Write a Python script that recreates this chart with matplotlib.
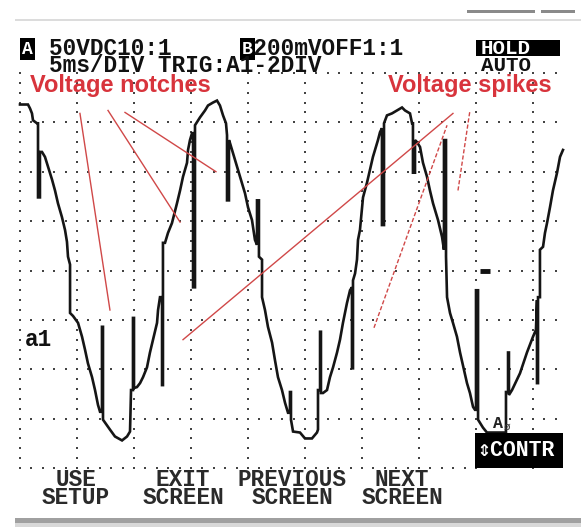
import matplotlib
matplotlib.use("Agg")
import matplotlib.pyplot as plt
import matplotlib.patches as patches
import numpy as np

# ---------------- data (time in ms, voltage in V; 5 ms/div, 50 V/div) ----------------
wave_t = [
    0.00, 0.70, 0.88, 1.05, 1.14, 1.49, 1.58, 1.58, 1.75, 1.75, 1.93,
    2.19, 2.46, 2.81, 3.07, 3.33, 3.68, 3.95, 4.12, 4.21, 4.39, 4.39, 4.65,
    5.09, 5.44, 5.70, 5.96, 6.32, 6.58, 6.84, 7.02, 7.19, 7.19, 7.28, 7.28,
    7.46, 7.89, 8.33, 8.95, 9.39, 9.65, 9.74, 9.91, 9.91, 10.00, 10.00,
    10.26, 10.53, 10.79, 11.14, 11.40, 11.67, 12.02, 12.11, 12.28, 12.46, 12.46, 12.54, 12.54,
    12.72, 12.98, 13.33, 13.77, 14.04, 14.30, 14.65, 14.74, 14.91, 15.09, 15.18, 15.18, 15.35, 15.35,
    15.79, 16.23, 16.49, 16.93, 17.28, 17.54, 17.81, 18.07, 18.16, 18.16, 18.33, 18.33,
    18.42, 18.86, 19.30, 19.74, 20.00, 20.35, 20.61, 20.79, 20.79, 20.96, 20.96, 21.23, 21.23,
    21.49, 21.75, 22.11, 22.37, 22.63, 22.98, 23.25, 23.51, 23.68, 23.68, 23.77, 23.77,
    23.95, 24.56, 25.00, 25.61, 26.05, 26.14, 26.14, 26.32, 26.32, 26.40, 26.40, 26.58,
    26.93, 27.19, 27.46, 27.81, 28.07, 28.33, 28.68, 28.95, 29.12, 29.12, 29.21, 29.21,
    29.39, 29.56, 29.65, 29.82, 30.09, 30.44, 30.70, 30.96, 31.40, 31.58, 31.75, 31.75, 31.93, 31.93,
    32.19, 32.63, 33.07, 33.51, 33.77, 34.21, 34.39, 34.47, 34.47, 34.65, 34.65,
    34.82, 35.09, 35.35, 35.70, 35.96, 36.23, 36.67, 37.02, 37.19, 37.19, 37.37, 37.37, 37.46,
    37.72, 37.98, 38.33, 38.60, 38.86, 39.21, 39.47, 39.74, 39.91, 40.00, 40.00, 40.18, 40.18,
    40.61, 40.96, 42.37, 42.63, 42.63, 42.81, 42.81, 42.89, 42.89,
    43.16, 43.86, 44.47, 45.00, 45.26, 45.35, 45.35, 45.44, 45.44, 45.61, 45.61,
    45.88, 46.05, 46.23, 46.49, 46.75, 47.11, 47.37, 47.63,
]
wave_v = [
    168, 168, 164, 159, 152, 149, 149, 74, 74, 120, 120,
    115, 105, 92, 81, 68, 54, 41, 29, 14, 6, -43, -46,
    -53, -67, -80, -94, -108, -121, -136, -143, -143, -57, -57, -151,
    -154, -161, -168, -172, -168, -163, -121, -121, -48, -48, -119,
    -118, -114, -108, -98, -83, -70, -53, -40, -27, -27, -116, -116, 28,
    28, 38, 48, 68, 81, 95, 109, 122, 132, 139, 139, -17, -17, 147,
    155, 162, 167, 170, 172, 167, 157, 149, 137, 71, 71, 132,
    129, 112, 95, 78, 64, 51, 31, 26, 71, 71, 14, 11, -27,
    -40, -57, -73, -91, -108, -121, -134, -144, -144, -123, -123, -151,
    -163, -164, -170, -170, -164, -161, -121, -121, -62, -62, -124, -124,
    -121, -108, -98, -83, -70, -53, -33, -20, -17, -99, -99, -10,
    -3, 11, 31, 41, 74, 89, 102, 115, 132, 140, 144, 46, 46, 149,
    157, 159, 162, 165, 162, 159, 149, 149, 99, 99, 132,
    130, 125, 109, 95, 81, 68, 51, 34, 21, 132, 132, 14, -27,
    -43, -53, -67, -83, -96, -114, -124, -138, -141, -141, -20, -20, -151,
    -159, -164, -164, -164, -123, -123, -83, -83, -126,
    -121, -104, -83, -67, -60, -30, -114, -114, -27, -27, 21,
    24, 38, 48, 64, 81, 99, 115, 122,
]

# red call-out lines (start/end in ms, V)
notch_t0 = [5.26, 7.72, 9.21]
notch_v0 = [159, 162, 160]
notch_t1 = [7.89, 14.04, 17.19]
notch_v1 = [-40, 49, 100]
spike_t0 = [14.30, 31.05, 38.42]
spike_v0 = [-70, -58, 81]
spike_t1 = [37.98, 37.46, 39.47]
spike_v1 = [159, 147, 162]

trigger_t = [40.35, 41.25]
trigger_v = [-1, -1]

hdr_ch_a = "50VDC10:1"
hdr_ch_b = "200mVOFF1:1"
hdr_time = "5ms/DIV TRIG:A1-2DIV"
key_top = ["USE", "EXIT", "PREVIOUS", "NEXT"]
key_bottom = ["SETUP", "SCREEN", "SCREEN", "SCREEN"]

# ---------------- screen calibration / layout ----------------
W, H = 581, 531
X0, PX_DIV, Y0, PY_DIV = 20.0, 57.0, 270.5, 49.4
def px2t(px):
    return (px - X0) / PX_DIV * 5.0
def py2v(py):
    return (Y0 - py) / PY_DIV * 50.0
def fx(px):
    return px / W
def fy(py):
    return 1 - py / H

fig = plt.figure(figsize=(W / 100, H / 100), dpi=100)
fig.patch.set_facecolor("white")
ax = fig.add_axes([0, 0, 1, 1])
ax.set_xlim(px2t(0), px2t(W))
ax.set_ylim(py2v(H), py2v(0))
ax.axis("off")

# ---------------- graticule ----------------
dot = dict(ls="none", marker="s", ms=1.8, mew=0, color="#444444", zorder=1)
for lvl in np.arange(-200, 201, 50):
    if lvl == 200:
        ts = np.arange(21, 47.5, 1.0)
    elif lvl == -200:
        ts = np.arange(0, 39.5, 1.0)
    else:
        ts = np.arange(0, 47.5, 1.0)
    ax.plot(ts, np.full_like(ts, lvl, dtype=float), **dot)
for tt in np.arange(0, 46, 5):
    vs = np.arange(-200, 201, 10)
    ax.plot(np.full_like(vs, tt, dtype=float), vs, **dot)

# ---------------- waveform ----------------
ax.plot(wave_t, wave_v, color="#151515", lw=1.9, solid_joinstyle="miter", zorder=3)
ax.plot(trigger_t, trigger_v, color="#111", lw=3.5, solid_capstyle="butt", zorder=3)

# ---------------- call-out lines ----------------
red_line = "#d04848"
for a, b, c, d in zip(notch_t0, notch_v0, notch_t1, notch_v1):
    ax.plot([a, c], [b, d], color=red_line, lw=1.0, zorder=4)
for i, (a, b, c, d) in enumerate(zip(spike_t0, spike_v0, spike_t1, spike_v1)):
    ls = "-" if i == 0 else (0, (3, 1.5))
    ax.plot([a, c], [b, d], color=red_line, lw=1.0, ls=ls, zorder=4)

# ---------------- header text ----------------
mono = dict(family="Liberation Mono", weight="bold", fontsize=16.4, color="#111",
            va="center", ha="left")
box_lbl = dict(family="Liberation Mono", weight="bold", fontsize=13, color="white",
               va="center", ha="left",
               bbox=dict(boxstyle="square,pad=0.12", fc="black", ec="none"))
fig.text(fx(22), fy(49), "A", **box_lbl)
fig.text(fx(242), fy(49), "B", **box_lbl)
header = hdr_ch_a + " " * 6 + hdr_ch_b + "\n" + hdr_time
fig.text(fx(49), fy(57), header, linespacing=0.72, **mono)

fig.patches.append(patches.Rectangle((fx(476), fy(56)), 84 / W, 16 / H,
                                     transform=fig.transFigure, fc="black", ec="none"))
fig.text(fx(481), fy(48.5), "HOLD", **{**mono, "color": "white", "fontsize": 15})
fig.text(fx(481), fy(65.5), "AUTO", **{**mono, "fontsize": 15})

red_txt = dict(family="Liberation Sans", weight="bold", fontsize=17, color="#d8343c",
               va="center", ha="left")
fig.text(fx(30), fy(85.5), "Voltage notches", **red_txt)
fig.text(fx(388), fy(85.5), "Voltage spikes", **red_txt)

fig.text(fx(25), fy(340), "a1", **mono)

# ---------------- bottom area ----------------
fig.patches.append(patches.Rectangle((fx(475), fy(468)), 88 / W, 35 / H,
                                     transform=fig.transFigure, fc="black", ec="none"))
fig.text(fx(477), fy(451), "\u21d5CONTR",
         family=["Liberation Mono", "DejaVu Sans Mono", "DejaVu Sans"], weight="bold",
         fontsize=15.5, color="white", va="center", ha="left")
fig.text(fx(493), fy(424), "A", family="Liberation Mono", weight="bold", fontsize=12,
         color="#222", va="center", ha="left")
fig.text(fx(504), fy(427), "\u00f8", family="DejaVu Sans Mono", fontsize=8, color="#333",
         va="center", ha="left")

key_x = [76, 183, 292, 402]
for x, t1, t2 in zip(key_x, key_top, key_bottom):
    fig.text(fx(x), fy(488.5), t1 + "\n" + t2, multialignment="center", linespacing=0.76,
             **{**mono, "ha": "center", "color": "#2a2a2a"})

# bezel lines
fig.patches.append(patches.Rectangle((fx(15), fy(523)), (W - 15) / W, 5 / H,
                                     transform=fig.transFigure, fc="#a0a0a0", ec="none"))
fig.patches.append(patches.Rectangle((fx(15), fy(527)), (W - 15) / W, 4 / H,
                                     transform=fig.transFigure, fc="#d8d8d8", ec="none"))
fig.patches.append(patches.Rectangle((fx(15), fy(21)), (W - 15) / W, 2 / H,
                                     transform=fig.transFigure, fc="#dcdcdc", ec="none"))
fig.patches.append(patches.Rectangle((fx(467), fy(13)), 68 / W, 2.5 / H,
                                     transform=fig.transFigure, fc="#8a8a8a", ec="none"))
fig.patches.append(patches.Rectangle((fx(541), fy(13)), 34 / W, 2.5 / H,
                                     transform=fig.transFigure, fc="#8a8a8a", ec="none"))

fig.savefig("out.png", dpi=100, facecolor="white")
